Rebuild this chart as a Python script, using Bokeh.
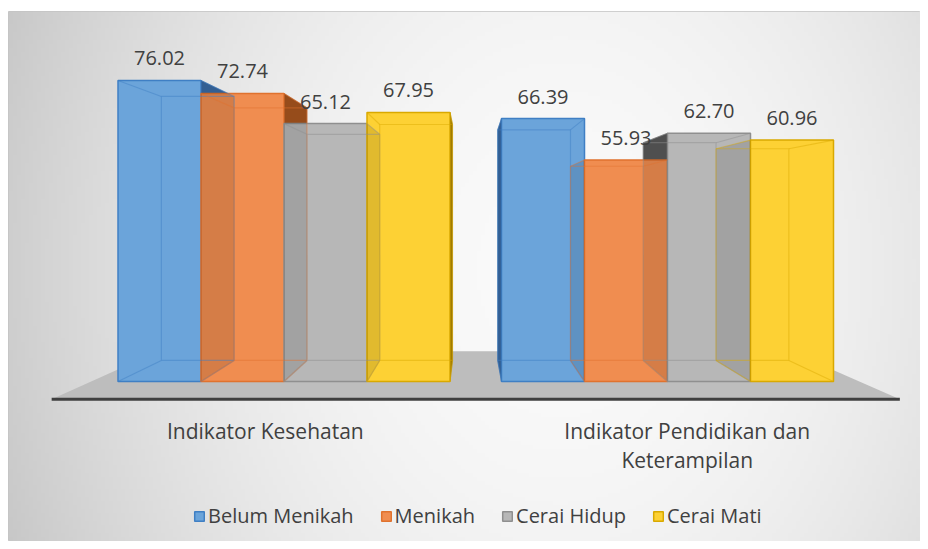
import numpy as np
from bokeh.plotting import figure
from bokeh.models import Range1d, Legend, LegendItem, ColumnDataSource
from bokeh.core.properties import value
from bokeh.embed import file_html
from bokeh.resources import INLINE

# ---------------- data ----------------
categories = ["Indikator Kesehatan", "Indikator Pendidikan dan\nKeterampilan"]
series = ["Belum Menikah", "Menikah", "Cerai Hidup", "Cerai Mati"]
belum_menikah = [76.02, 66.39]
menikah = [72.74, 55.93]
cerai_hidup = [65.12, 62.70]
cerai_mati = [67.95, 60.96]
series_values = [belum_menikah, menikah, cerai_hidup, cerai_mati]

# ---------------- style ----------------
front_colors = ["#6ba4da", "#f08d50", "#b7b7b7", "#fdd134"]
edge_colors = ["#3f7fc4", "#e0722e", "#8f8f8f", "#d9a900"]
side_colors = ["#3a6ba6", "#a9561f", "#595959", "#b38a00"]
TEXT = "#404040"
FONT = value("Open Sans")

LEFT, TOP = 8, 11
FW, FH = 912, 530
W, H = LEFT + FW, TOP + FH
PXY = 3.96            # px per value unit
ZERO_FROM_TOP = 370   # px of value 0 below frame top
PXX = 383.5           # px per category unit
G0_PX = 275.5         # px of first group centre from frame left

y0 = -(FH - ZERO_FROM_TOP) / PXY
y1 = ZERO_FROM_TOP / PXY
x0r = 0.5 - G0_PX / PXX
x1r = x0r + FW / PXX

BAR_W = 83 / PXX
VX = x0r + 462 / PXX       # perspective vanishing point
VY = (ZERO_FROM_TOP - 199) / PXY
DEPTH = 0.877
FLOOR_DEPTH = 0.745
FLOOR_OVER = 0.173
FLOOR_FRONT = -4.5

def bx(x, s=DEPTH):
    return VX + s * (x - VX)

def by(y, s=DEPTH):
    return VY + s * (y - VY)

p = figure(width=W, height=H, output_backend="svg", toolbar_location=None,
           x_range=Range1d(x0r, x1r), y_range=Range1d(y0, y1),
           x_axis_type=None, y_axis_type=None,
           min_border_left=LEFT, min_border_right=0, min_border_bottom=0,
           min_border_top=TOP)
p.grid.visible = False
p.outline_line_color = "#c4c4c4"
p.border_fill_color = "white"
p.background_fill_color = "#e6e6e6"

# radial background gradient
nx, ny = 228, 133
fx = (np.arange(nx) + 0.5) * FW / nx
fy = FH - (np.arange(ny) + 0.5) * FH / ny
FX, FY = np.meshgrid(fx, fy)
r2 = ((FX - 552) / 560) ** 2 + ((FY - 259) / 700) ** 2
g = np.clip(250 - 45 * r2, 185, 255).astype(np.uint32)
img = ((np.uint32(255) << 24) | (g << 16) | (g << 8) | g).astype(np.uint32)
p.image_rgba(image=[img], x=x0r, y=y0, dw=x1r - x0r, dh=y1 - y0)

# floor
gx = [i + 0.5 for i in range(len(categories))]
nser = len(series)
fl = gx[0] - 2 * BAR_W - FLOOR_OVER
fr = gx[-1] + 2 * BAR_W + FLOOR_OVER
p.patch([fl, fr, bx(fr, FLOOR_DEPTH), bx(fl, FLOOR_DEPTH)],
        [FLOOR_FRONT, FLOOR_FRONT, by(FLOOR_FRONT, FLOOR_DEPTH), by(FLOOR_FRONT, FLOOR_DEPTH)],
        fill_color="#bdbdbd", line_color=None)
p.line([fl, fr], [FLOOR_FRONT, FLOOR_FRONT], line_color="#3f3f3f", line_width=3)

# geometry of bars
bars = []
for j in range(nser):
    for i in range(len(categories)):
        c = gx[i] + (j - (nser - 1) / 2) * BAR_W
        bars.append(dict(j=j, i=i, l=c - BAR_W / 2, r=c + BAR_W / 2, c=c,
                         v=series_values[j][i]))

# side faces (towards vanishing point)
side_xs, side_ys, side_col = [], [], []
for b in bars:
    e = b["r"] if VX > b["r"] else b["l"]
    side_xs.append([e, e, bx(e), bx(e)])
    side_ys.append([0, b["v"], by(b["v"]), by(0)])
    side_col.append(side_colors[b["j"]])
side_src = ColumnDataSource(dict(xs=side_xs, ys=side_ys, c=side_col))
p.patches("xs", "ys", source=side_src, fill_color="c", line_color="c", line_alpha=0.6)

# front faces
items = []
for j in range(nser):
    bj = [b for b in bars if b["j"] == j]
    src = ColumnDataSource(dict(left=[b["l"] for b in bj], right=[b["r"] for b in bj],
                                top=[b["v"] for b in bj], bottom=[0] * len(bj)))
    rr = p.quad(left="left", right="right", top="top", bottom="bottom", source=src,
                fill_color=front_colors[j], line_color=edge_colors[j], line_width=1.5)
    items.append(LegendItem(label=series[j], renderers=[rr]))

# shading of side faces seen through neighbouring bars
p.patches("xs", "ys", source=side_src, fill_color="black", fill_alpha=0.11, line_color=None)

# inner edges (back face and depth edges)
lx, ly, lc = [], [], []
for b in bars:
    l, r, v = b["l"], b["r"], b["v"]
    lx.append([bx(l), bx(r), bx(r), bx(l), bx(l)])
    ly.append([by(0), by(0), by(v), by(v), by(0)])
    lc.append(edge_colors[b["j"]])
    for (xx, yy) in [(l, 0), (r, 0), (l, v), (r, v)]:
        lx.append([xx, bx(xx)])
        ly.append([yy, by(yy)])
        lc.append(edge_colors[b["j"]])
p.multi_line(xs=lx, ys=ly, line_color=lc, line_alpha=0.45, line_width=1.2)

# data labels
p.text(x=[b["c"] for b in bars], y=[b["v"] for b in bars],
       text=["{:.2f}".format(b["v"]) for b in bars],
       text_align="center", text_baseline="middle", y_offset=-22,
       text_font=FONT, text_font_size="20px", text_color=TEXT)

# category labels (on the floor front plane)
lab_x = [VX + 1.1 * (x - VX) for x in gx]
p.text(x=lab_x, y=[-(416 - 381) / PXY] * len(gx), text=categories,
       text_align="center", text_baseline="top", text_line_height=1.05,
       text_font=FONT, text_font_size="21px", text_color=TEXT)

legend = Legend(items=items, orientation="horizontal", location=(185, 12),
                glyph_width=12, glyph_height=12, label_standoff=3, spacing=26,
                padding=0, margin=0, background_fill_alpha=0, border_line_alpha=0,
                label_text_font="Open Sans", label_text_font_size="20px",
                label_text_color=TEXT)
p.add_layout(legend)

open("out.html", "w").write(file_html(p, INLINE))
